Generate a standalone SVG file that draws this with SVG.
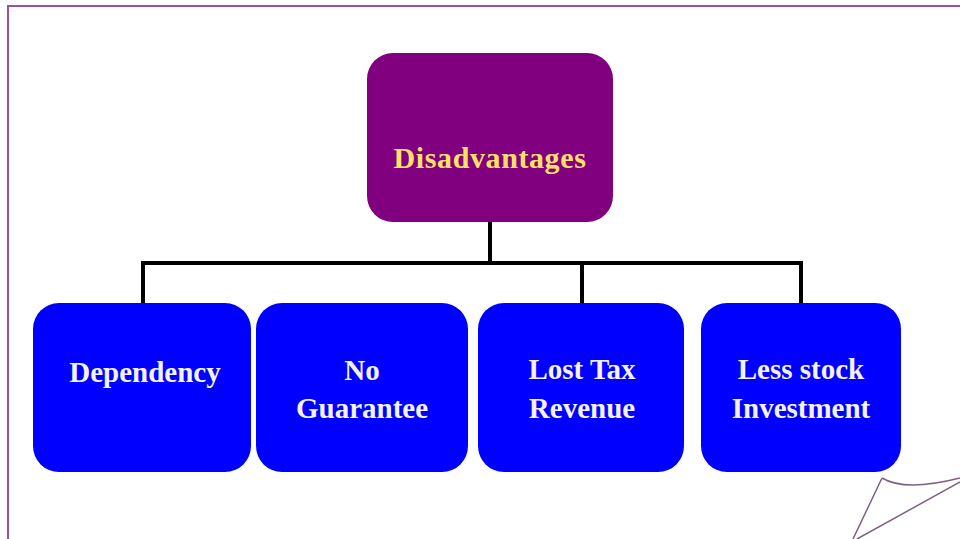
<svg xmlns="http://www.w3.org/2000/svg" width="960" height="539" viewBox="0 0 960 539">
<style>
.frame{stroke:#a0509a;stroke-width:2;fill:none}
.curl{stroke:#806080;stroke-width:1.5;fill:none}
.root{fill:#800080}
.child{fill:#0000ff}
.conn{stroke:#000;stroke-width:4;fill:none;stroke-linecap:square}
.t{font-family:"Liberation Serif","Times New Roman",serif;font-weight:bold;text-anchor:middle}
.tr{fill:#ffe066;font-size:30px;letter-spacing:0.6px}
.tc{fill:#f2f2f2;font-size:29px}
</style>
<rect width="960" height="539" fill="#ffffff"/>
<path class="frame" d="M8,539 V6 H960"/>
<g id="curl">
<path class="curl" d="M882,478 L853,539"/>
<path class="curl" d="M882,478 Q905,492 960,478"/>
<path class="curl" d="M857,539 L960,482"/>
</g>
<g id="connectors">
<path class="conn" d="M490,222 V263"/>
<path class="conn" d="M143,303 V263 H801 V303"/>
<path class="conn" d="M582,263 V303"/>
</g>
<g id="disadvantages">
<rect class="root" x="367" y="53" width="246" height="169" rx="26"/>
<text class="t tr" x="490" y="168">Disadvantages</text>
</g>
<g id="dependency">
<rect class="child" x="33" y="303" width="218" height="169" rx="26"/>
<text class="t tc" x="145" y="382">Dependency</text>
</g>
<g id="no-guarantee">
<rect class="child" x="256" y="303" width="212" height="169" rx="26"/>
<text class="t tc" x="362" y="380">No</text>
<text class="t tc" x="362" y="418">Guarantee</text>
</g>
<g id="lost-tax-revenue">
<rect class="child" x="478" y="303" width="206" height="169" rx="26"/>
<text class="t tc" x="582" y="379">Lost Tax</text>
<text class="t tc" x="582" y="418">Revenue</text>
</g>
<g id="less-stock-investment">
<rect class="child" x="701" y="303" width="200" height="169" rx="26"/>
<text class="t tc" x="801" y="379">Less stock</text>
<text class="t tc" x="801" y="418">Investment</text>
</g>
</svg>
